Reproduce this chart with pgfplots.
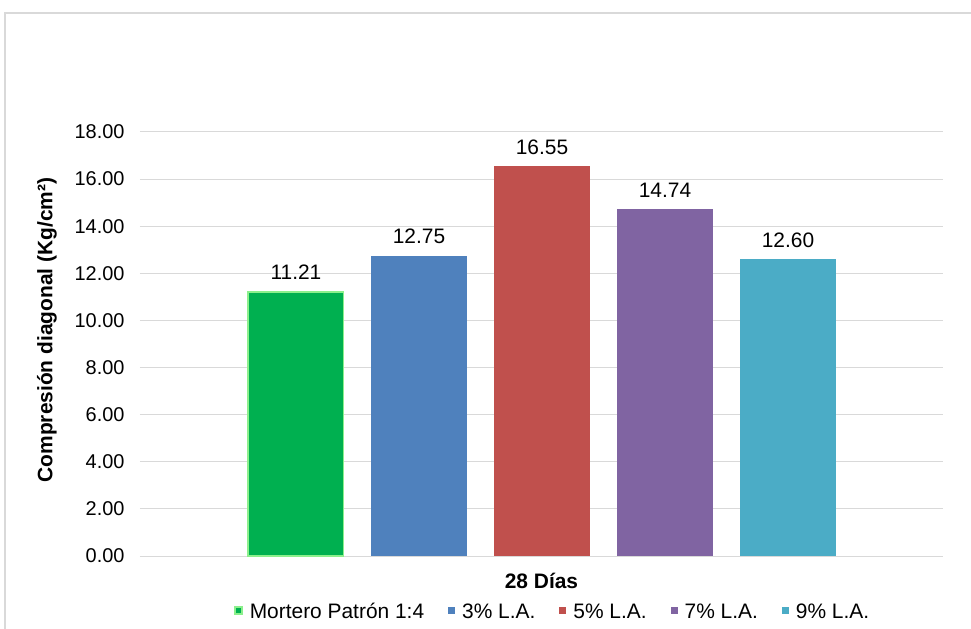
\documentclass[border=0pt]{standalone}
\usepackage{fontspec}
\setmainfont{Liberation Sans}
\usepackage{pgfplots}
\pgfplotsset{compat=1.18}
\definecolor{cgreen}{HTML}{00B050}
\definecolor{cgreenedge}{HTML}{8CF08C}
\definecolor{cblue}{HTML}{4F81BD}
\definecolor{cred}{HTML}{C0504D}
\definecolor{cpurple}{HTML}{8064A2}
\definecolor{ccyan}{HTML}{4BACC6}
\definecolor{gridgray}{HTML}{D9D9D9}
\begin{document}
\begin{tikzpicture}
\useasboundingbox (-140bp,-73bp) rectangle (831bp,556bp);
\draw[color=gridgray, line width=1.2bp] (-135bp,-73bp) -- (-135bp,543bp) -- (831bp,543bp);
\begin{axis}[
  at={(0,0)}, anchor=south west,
  scale only axis, width=803bp, height=424bp,
  xmin=-0.268, xmax=6.260, ymin=0, ymax=18,
  ytick={0,2,4,6,8,10,12,14,16,18}, xtick=\empty,
  ymajorgrids, grid style={color=gridgray, line width=1bp},
  axis line style={draw=none},
  major tick length=0pt,
  yticklabel style={font=\fontsize{20}{24}\selectfont, xshift=-12bp},
  /pgf/number format/fixed, /pgf/number format/fixed zerofill,
  /pgf/number format/precision=2, /pgf/number format/assume math mode=true,
  ybar, bar width=0.776,
  legend image code/.code={\fill[#1] (0bp,-2bp) rectangle (7bp,5bp);},
  nodes near coords,
  every node near coord/.append style={font=\fontsize{21}{25}\selectfont, color=black, yshift=8bp},
  xlabel={\textbf{28 Días}},
  xlabel style={at={(axis description cs:0.5,0)}, anchor=base, yshift=-32bp, font=\fontsize{21}{25}\selectfont},
  ylabel={\textbf{Compresión diagonal (Kg/cm²)}},
  ylabel style={at={(axis description cs:0,0.533)}, anchor=center, yshift=93bp, font=\fontsize{21}{25}\selectfont},
  legend columns=5,
  legend style={draw=none, fill=none, font=\fontsize{21}{25}\selectfont,
    at={(axis description cs:0.514,-0.132)}, anchor=center,
    /tikz/every odd column/.append style={column sep=5bp},
    /tikz/every even column/.append style={column sep=22bp}},
  clip=false,
]
\addplot[bar shift=0pt, fill=cgreen, draw=cgreenedge, line width=1.5bp] coordinates {(1,11.21)};
\addlegendentry{Mortero Patrón 1:4}
\addplot[bar shift=0pt, fill=cblue, draw=none] coordinates {(2,12.75)};
\addlegendentry{3\% L.A.}
\addplot[bar shift=0pt, fill=cred, draw=none] coordinates {(3,16.55)};
\addlegendentry{5\% L.A.}
\addplot[bar shift=0pt, fill=cpurple, draw=none] coordinates {(4,14.74)};
\addlegendentry{7\% L.A.}
\addplot[bar shift=0pt, fill=ccyan, draw=none] coordinates {(5,12.60)};
\addlegendentry{9\% L.A.}
\end{axis}
\end{tikzpicture}
\end{document}
